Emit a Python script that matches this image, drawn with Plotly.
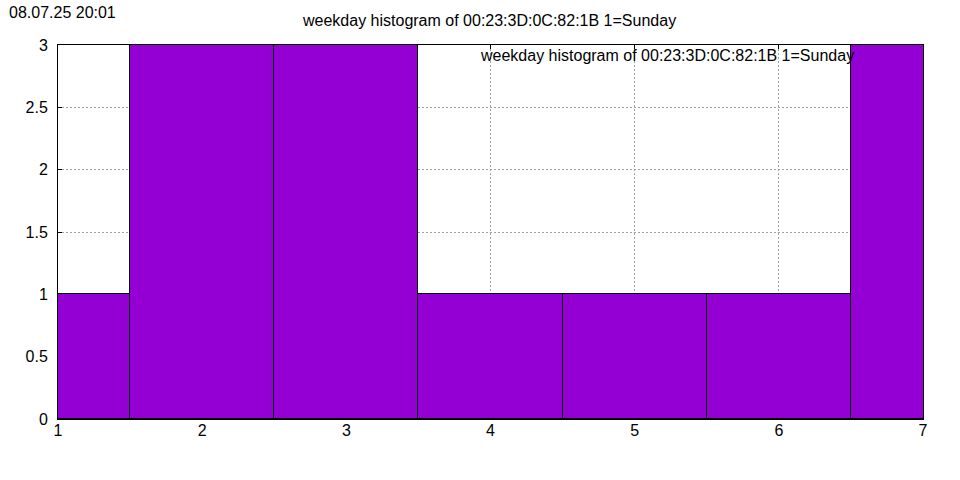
import plotly.graph_objects as go

weekdays = [1, 2, 3, 4, 5, 6, 7]
counts = [1, 3, 3, 1, 1, 1, 3]
title_text = "weekday histogram of 00:23:3D:0C:82:1B 1=Sunday"
series_name = "weekday histogram of 00:23:3D:0C:82:1B 1=Sunday"
timestamp = "08.07.25 20:01"
x_ticks = [1, 2, 3, 4, 5, 6, 7]
y_ticks = [0, 0.5, 1, 1.5, 2, 2.5, 3]
y_tick_labels = ["0", "0.5", "1", "1.5", "2", "2.5", "3"]

FONT = "Liberation Sans, Arial, sans-serif"
W, H = 960, 480
PL, PR, PT, PB = 58, 923, 45, 419  # plot box in screenshot pixels
L, T = PL, PT
R, B = W - PR, H - PB
PW, PH = PR - PL, PB - PT


def px(x):
    return (x - PL) / PW


def py(y):
    return (PB - y) / PH


fig = go.Figure()
fig.add_trace(go.Bar(
    x=weekdays, y=counts, width=1,
    marker=dict(color="#9400D3", line=dict(color="black", width=1)),
    name=series_name, showlegend=False,
))

axis_common = dict(
    showgrid=True, gridcolor="#a0a0a0", griddash="2px,2px", gridwidth=1,
    showline=True, linecolor="black", linewidth=1, mirror="ticks",
    zeroline=False, ticks="inside", ticklen=4, tickcolor="black", tickwidth=1,
    layer="below traces", tickfont=dict(family=FONT, size=16),
)

fig.update_layout(
    width=W, height=H,
    margin=dict(l=L, r=R, t=T, b=B, autoexpand=False),
    paper_bgcolor="white", plot_bgcolor="white",
    font=dict(family=FONT, size=16, color="black"),
    bargap=0,
    xaxis=dict(range=[1, 7], tickvals=x_ticks, ticktext=[str(v) for v in x_ticks],
               ticklabelstandoff=-3, **axis_common),
    yaxis=dict(range=[0, 3], tickvals=y_ticks, ticktext=y_tick_labels,
               ticklabelstandoff=6, **axis_common),
)

fig.add_annotation(text=title_text, xref="paper", yref="paper",
                   x=px(489), y=py(21),
                   xanchor="center", yanchor="middle", showarrow=False,
                   font=dict(family=FONT, size=16))
fig.add_annotation(text=series_name, xref="paper", yref="paper",
                   x=px(856), y=py(55),
                   xanchor="right", yanchor="middle", showarrow=False,
                   font=dict(family=FONT, size=16))
fig.add_annotation(text=timestamp, xref="paper", yref="paper",
                   x=px(7), y=py(12),
                   xanchor="left", yanchor="middle", showarrow=False,
                   font=dict(family=FONT, size=16))

fig.write_html("out.html",
               config={"displayModeBar": False},
               post_script="document.body.style.margin='0';")
